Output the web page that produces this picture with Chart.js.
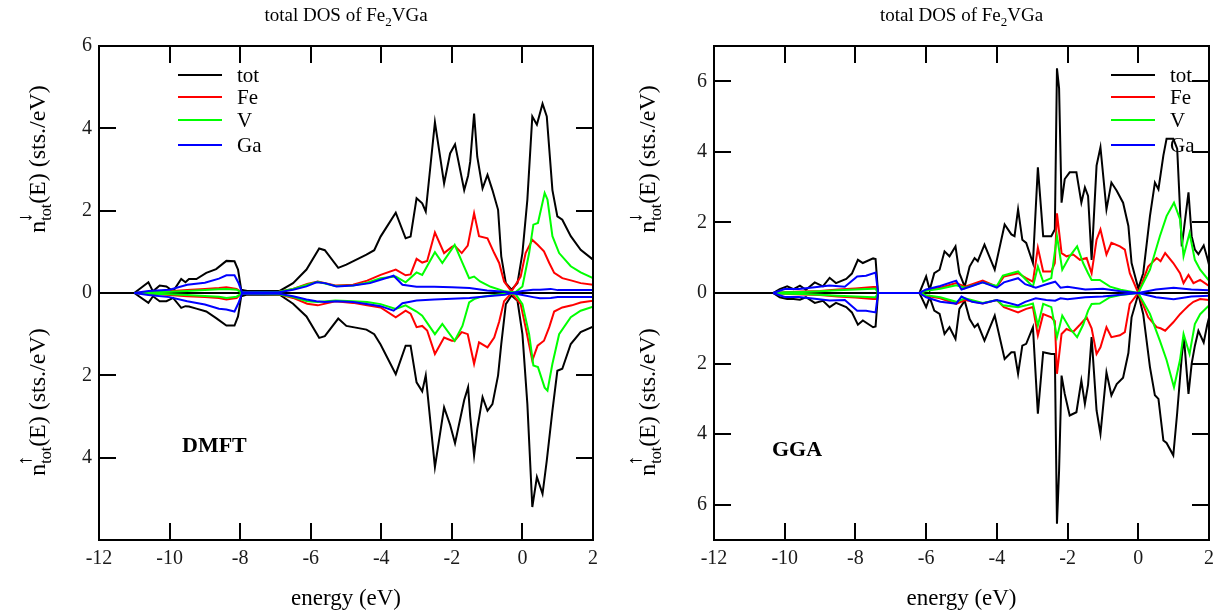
<!DOCTYPE html>
<html><head><meta charset="utf-8">
<script src="https://cdn.jsdelivr.net/npm/chart.js@4.4.0/dist/chart.umd.min.js"></script>
<style>
html,body{margin:0;padding:0;background:#fff;}
#wrap{position:relative;width:1221px;height:612px;overflow:hidden;}
.panel{position:absolute;top:0;height:612px;}
#p1{left:0;width:610px;} #p2{left:610px;width:611px;}
canvas{display:block;}
</style></head><body>
<div id="wrap">
<div class="panel" id="p1"><canvas id="c1" width="610" height="612"></canvas></div>
<div class="panel" id="p2"><canvas id="c2" width="611" height="612"></canvas></div>
</div>
<script>
// ---------- tick labels ----------
const xTicks = [-12,-10,-8,-6,-4,-2,0,2];
const dmftYTicks = [-4,-2,0,2,4,6];
const ggaYTicks = [-6,-4,-2,0,2,4,6];
const seriesNames = ['tot','Fe','V','Ga'];

// ---------- DMFT panel (Dn = spin down, plotted up; Up = spin up, plotted down) ----------
const dmftTotE = [-11.0,-10.6,-10.47,-10.28,-10.09,-9.9,-9.67,-9.55,-9.45,-9.24,-8.96,-8.68,-8.39,-8.16,-8.06,-7.97,-7.8,-6.88,-6.5,-6.12,-5.76,-5.6,-5.22,-4.99,-4.42,-4.2,-4.02,-3.59,-3.31,-3.17,-3.0,-2.84,-2.74,-2.48,-2.22,-2.05,-1.91,-1.65,-1.54,-1.48,-1.37,-1.28,-1.13,-0.99,-0.85,-0.69,-0.6,-0.47,-0.31,-0.14,0.0,0.14,0.28,0.41,0.57,0.69,0.85,0.99,1.13,1.37,1.65,2.0];
const dmftTotDn = [0,0.26,0.04,0.18,0.16,0.04,0.34,0.26,0.34,0.34,0.49,0.58,0.78,0.77,0.57,0.08,0.05,0.05,0.24,0.57,1.08,1.04,0.61,0.69,0.93,1.04,1.37,1.95,1.33,1.37,2.3,2.18,1.98,4.15,2.66,3.39,3.61,2.5,2.85,3.19,4.36,3.31,2.54,2.87,2.5,2.02,0.89,0.24,0.08,0.24,0.97,2.27,4.29,4.09,4.6,4.29,2.5,1.86,1.78,1.38,1.05,0.81];
const dmftTotUp = [0,0.24,0.08,0.2,0.2,0.12,0.36,0.32,0.33,0.38,0.45,0.61,0.79,0.79,0.57,0.08,0.04,0.04,0.26,0.57,1.09,1.05,0.62,0.8,0.89,1.0,1.25,1.97,1.28,1.28,2.17,2.39,2.0,4.23,2.78,3.2,3.65,2.6,2.29,3.0,3.95,3.3,2.53,2.86,2.7,2.0,1.24,0.27,0.06,0.19,1.0,2.7,5.2,4.47,4.88,4.07,2.86,1.89,1.84,1.24,0.95,0.82];

const dmftFeE = [-11.0,-10.5,-10.0,-9.5,-9.0,-8.6,-8.39,-8.1,-7.97,-7.8,-6.9,-6.5,-6.1,-5.8,-5.3,-4.8,-4.4,-4.02,-3.59,-3.31,-3.17,-3.0,-2.84,-2.7,-2.48,-2.22,-2.0,-1.92,-1.72,-1.55,-1.37,-1.23,-0.99,-0.8,-0.66,-0.52,-0.31,-0.05,0.09,0.28,0.43,0.61,0.76,0.9,1.13,1.4,1.65,2.0];
const dmftFeDn = [0,0.02,0.04,0.07,0.1,0.12,0.14,0.1,0.02,0.02,0.03,0.1,0.22,0.28,0.18,0.2,0.3,0.44,0.57,0.43,0.45,0.83,0.74,0.78,1.47,0.97,1.12,1.15,0.97,1.15,1.94,1.38,1.33,0.97,0.73,0.28,0.04,0.4,0.97,1.29,1.17,1.01,0.73,0.49,0.36,0.3,0.24,0.2];
const dmftFeUp = [0,0.02,0.05,0.08,0.1,0.12,0.16,0.12,0.02,0.02,0.03,0.12,0.26,0.3,0.2,0.24,0.3,0.35,0.59,0.43,0.5,0.83,0.8,0.91,1.48,1.08,1.16,1.16,0.95,1.0,1.72,1.2,1.32,1.08,0.7,0.2,0.0,0.27,0.83,1.64,1.28,1.16,0.83,0.45,0.35,0.3,0.23,0.19];

const dmftVE = [-11.0,-10.5,-10.0,-9.5,-9.0,-8.6,-8.39,-8.1,-7.97,-7.8,-6.9,-6.5,-6.1,-5.8,-5.3,-4.8,-4.4,-4.02,-3.59,-3.31,-3.0,-2.84,-2.48,-2.27,-1.92,-1.7,-1.51,-1.37,-1.2,-0.9,-0.5,-0.2,0.0,0.19,0.31,0.44,0.63,0.71,0.85,1.04,1.37,1.65,2.0];
const dmftVDn = [0,0.02,0.03,0.05,0.07,0.09,0.1,0.08,0.02,0.02,0.03,0.1,0.2,0.27,0.17,0.18,0.25,0.36,0.4,0.26,0.5,0.44,0.99,0.73,1.17,0.73,0.36,0.4,0.28,0.15,0.04,0.02,0.16,0.97,1.66,1.7,2.43,2.27,1.38,0.97,0.65,0.5,0.36];
const dmftVUp = [0,0.02,0.03,0.05,0.07,0.09,0.12,0.09,0.02,0.02,0.03,0.1,0.2,0.22,0.18,0.2,0.22,0.27,0.39,0.3,0.45,0.55,1.0,0.75,1.16,0.8,0.23,0.15,0.1,0.06,0.02,0.02,0.27,1.0,1.76,1.8,2.3,2.37,1.72,1.0,0.59,0.43,0.33];

const dmftGaE = [-11.0,-10.6,-10.0,-9.5,-9.0,-8.6,-8.39,-8.16,-8.05,-7.95,-7.8,-6.9,-6.5,-6.12,-5.84,-5.6,-5.27,-4.8,-4.32,-4.02,-3.65,-3.4,-3.0,-2.5,-2.0,-1.5,-1.0,-0.5,-0.3,0.0,0.3,0.5,0.8,1.0,1.5,2.0];
const dmftGaDn = [0,0.05,0.08,0.2,0.25,0.35,0.43,0.43,0.25,0.02,0.02,0.02,0.08,0.16,0.26,0.24,0.16,0.18,0.24,0.32,0.42,0.2,0.15,0.15,0.14,0.12,0.06,0.03,0.0,0.05,0.08,0.08,0.1,0.07,0.07,0.07];
const dmftGaUp = [0,0.05,0.1,0.2,0.28,0.38,0.4,0.45,0.25,0.02,0.02,0.02,0.08,0.16,0.2,0.22,0.2,0.22,0.28,0.32,0.43,0.25,0.18,0.16,0.14,0.12,0.08,0.04,0.0,0.05,0.1,0.13,0.12,0.1,0.1,0.1];

// ---------- GGA panel ----------
const ggaTotE = [-10.33,-10.14,-9.93,-9.75,-9.57,-9.4,-9.15,-8.92,-8.73,-8.55,-8.26,-8.1,-7.93,-7.79,-7.5,-7.43,-7.36,-6.19,-6.0,-5.9,-5.77,-5.62,-5.48,-5.34,-5.17,-5.06,-4.91,-4.77,-4.63,-4.54,-4.35,-4.06,-3.78,-3.59,-3.5,-3.4,-3.28,-3.17,-2.98,-2.84,-2.69,-2.46,-2.36,-2.3,-2.24,-2.17,-2.08,-1.94,-1.75,-1.61,-1.51,-1.42,-1.32,-1.18,-1.07,-0.9,-0.76,-0.61,-0.43,-0.28,-0.19,0.0,0.14,0.33,0.47,0.57,0.71,0.8,0.99,1.1,1.23,1.29,1.42,1.51,1.6,1.7,1.85,1.95,2.0];
const ggaTotDn = [0,0.11,0.19,0.11,0.21,0.09,0.3,0.19,0.43,0.28,0.4,0.55,0.94,0.85,0.98,0.96,0,0,0.47,0.09,0.56,0.66,1.18,1.04,1.32,0.56,0.18,0.75,0.99,0.9,1.37,0.66,1.94,1.66,1.61,2.37,1.51,1.42,0.85,3.56,1.61,1.61,1.8,6.37,5.8,2.56,3.23,3.42,3.42,2.56,2.99,2.75,0.94,3.61,4.13,2.37,3.13,2.9,2.56,1.9,0.85,0.13,0.56,2.18,3.13,2.94,3.9,4.37,4.37,4.09,1.32,1.8,2.85,1.61,1.23,1.1,1.35,1.0,0.8];
const ggaTotUp = [0,0.12,0.17,0.17,0.19,0.12,0.28,0.22,0.4,0.28,0.4,0.55,0.9,0.78,0.97,0.95,0,0,0.4,0.12,0.5,0.59,1.16,0.97,1.3,0.45,0.22,0.74,0.97,0.88,1.35,0.64,1.87,1.68,1.68,2.29,1.49,1.44,0.97,3.42,1.68,1.73,1.73,6.54,5.03,2.34,2.86,3.47,3.38,2.48,3.14,2.6,1.25,3.33,3.99,2.25,2.9,2.58,2.4,1.7,0.69,0.03,0.6,2.1,2.9,3.0,4.18,4.25,4.6,3.4,1.8,1.25,2.86,2.0,1.5,1.07,1.4,0.9,0.7];

const ggaFeE = [-10.33,-10.0,-9.5,-9.0,-8.5,-8.0,-7.5,-7.43,-7.36,-6.19,-6.0,-5.6,-5.15,-4.9,-4.4,-4.0,-3.8,-3.4,-3.17,-2.98,-2.84,-2.69,-2.46,-2.36,-2.3,-2.17,-2.03,-1.84,-1.65,-1.46,-1.32,-1.18,-1.07,-0.9,-0.76,-0.52,-0.38,-0.24,0.0,0.28,0.52,0.63,0.76,0.99,1.18,1.28,1.42,1.56,1.75,2.0];
const ggaFeDn = [0,0.02,0.04,0.06,0.1,0.13,0.17,0.17,0,0,0.08,0.15,0.28,0.18,0.35,0.18,0.47,0.56,0.42,0.32,1.28,0.61,0.61,0.85,2.26,1.13,1.04,1.09,0.94,0.99,0.56,1.51,1.8,1.09,1.42,1.32,1.23,0.56,0.0,0.75,0.99,0.9,1.13,0.85,0.56,0.28,0.51,0.28,0.37,0.2];
const ggaFeUp = [0,0.02,0.04,0.06,0.1,0.13,0.17,0.17,0,0,0.08,0.15,0.31,0.2,0.3,0.2,0.4,0.55,0.45,0.4,1.2,0.6,0.69,0.8,2.29,1.16,1.02,1.1,0.9,0.69,1.0,1.73,1.54,0.97,1.25,1.2,1.11,0.31,0.0,0.69,0.97,1.0,1.07,0.83,0.6,0.5,0.36,0.25,0.17,0.2];

const ggaVE = [-10.33,-10.0,-9.5,-9.0,-8.5,-8.0,-7.5,-7.43,-7.36,-6.19,-6.0,-5.6,-5.15,-4.9,-4.4,-4.0,-3.83,-3.4,-3.17,-2.98,-2.84,-2.69,-2.46,-2.3,-2.15,-1.94,-1.73,-1.56,-1.42,-1.32,-1.09,-0.8,-0.5,0.0,0.33,0.61,0.8,1.01,1.18,1.28,1.45,1.6,1.75,2.0];
const ggaVDn = [0,0.02,0.03,0.05,0.08,0.1,0.12,0.12,0,0,0.06,0.12,0.22,0.15,0.3,0.2,0.49,0.61,0.37,0.18,0.75,0.32,0.42,1.61,0.66,1.04,1.32,0.85,0.56,0.37,0.37,0.18,0.09,0.0,0.66,1.61,2.18,2.56,2.09,1.04,1.7,0.94,0.66,0.35];
const ggaVUp = [0,0.02,0.03,0.05,0.08,0.1,0.12,0.12,0,0,0.06,0.12,0.25,0.15,0.28,0.2,0.35,0.4,0.35,0.3,0.92,0.31,0.4,1.25,0.64,1.0,1.25,0.9,0.5,0.31,0.3,0.12,0.06,0.0,0.59,1.35,1.9,2.67,1.9,1.16,1.73,0.88,0.6,0.35];

const ggaGaE = [-10.33,-10.0,-9.6,-9.15,-8.73,-8.3,-7.95,-7.7,-7.43,-7.36,-6.19,-6.0,-5.6,-5.15,-5.0,-4.7,-4.4,-4.0,-3.8,-3.4,-3.2,-2.9,-2.6,-2.35,-2.2,-2.0,-1.5,-1.0,-0.5,0.0,0.5,1.0,1.5,2.0];
const ggaGaDn = [0,0.11,0.11,0.16,0.21,0.18,0.47,0.49,0.58,0,0,0.1,0.2,0.35,0.1,0.2,0.3,0.15,0.3,0.42,0.25,0.15,0.25,0.32,0.15,0.18,0.1,0.12,0.05,0.0,0.1,0.15,0.1,0.08];
const ggaGaUp = [0,0.11,0.11,0.16,0.21,0.2,0.5,0.5,0.55,0,0,0.12,0.25,0.3,0.1,0.25,0.3,0.2,0.25,0.35,0.25,0.15,0.2,0.22,0.15,0.18,0.12,0.1,0.05,0.0,0.12,0.18,0.1,0.08];

// ---------- styling ----------
const SERIF = '"Liberation Serif","Times New Roman",Times,serif';
const COLORS = {tot:'#000000', Fe:'#ff0000', V:'#00ff00', Ga:'#0000ff'};

function pts(E, v, sign){ return E.map((e,i)=>({x:e, y:sign*v[i]})); }

function makeDatasets(list){
  const ds = [];
  list.forEach((s, k) => {
    const base = {borderColor:COLORS[s.name], backgroundColor:COLORS[s.name], borderWidth:2,
      pointRadius:0, tension:0, fill:false, order:3-k};
    ds.push(Object.assign({label:s.name, inLegend:true, data:pts(s.E, s.dn, 1)}, base));
    ds.push(Object.assign({label:s.name+' (up)', inLegend:false, data:pts(s.E, s.up, -1)}, base));
  });
  return ds;
}

function drawYLabel(ctx, x, yc, arrow){
  ctx.save();
  ctx.translate(x, yc); ctx.rotate(-Math.PI/2);
  const big = '24px '+SERIF, small = '16px '+SERIF;
  ctx.font = big; const wn = ctx.measureText('n').width; const rest='(E) (sts./eV)'; const wr = ctx.measureText(rest).width;
  ctx.font = small; const wt = ctx.measureText('tot').width;
  let cx = -(wn+wt+wr)/2;
  ctx.fillStyle = '#000'; ctx.textAlign='left'; ctx.textBaseline='alphabetic';
  ctx.font = big; ctx.fillText('n', cx, 0); cx += wn;
  ctx.font = small; ctx.fillText('tot', cx, 6);
  ctx.font = '20px '+SERIF; ctx.fillText(arrow, cx-2, -14);
  cx += wt;
  ctx.font = big; ctx.fillText(rest, cx, 0);
  ctx.restore();
}

function decoPlugin(P){
  return {
    id:'deco_'+P.id,
    beforeDatasetsDraw(chart){
      const {ctx, chartArea:a, scales:{y}} = chart;
      const y0 = y.getPixelForValue(0);
      ctx.save(); ctx.strokeStyle='#000'; ctx.lineWidth=2;
      ctx.beginPath(); ctx.moveTo(a.left, y0); ctx.lineTo(a.right, y0); ctx.stroke(); ctx.restore();
    },
    afterDatasetsDraw(chart){
      const {ctx, chartArea:a, scales:{x, y}} = chart;
      ctx.save(); ctx.strokeStyle='#000'; ctx.lineWidth=2;
      ctx.strokeRect(a.left, a.top, a.right-a.left, a.bottom-a.top);
      const L = 17;
      ctx.beginPath();
      xTicks.forEach(v=>{ const px = Math.round(x.getPixelForValue(v));
        ctx.moveTo(px, a.bottom); ctx.lineTo(px, a.bottom-L);
        ctx.moveTo(px, a.top); ctx.lineTo(px, a.top+L); });
      P.yMarks.forEach(v=>{ const py = Math.round(y.getPixelForValue(v));
        ctx.moveTo(a.left, py); ctx.lineTo(a.left+L, py);
        ctx.moveTo(a.right, py); ctx.lineTo(a.right-L, py); });
      ctx.stroke(); ctx.restore();
    },
    afterDraw(chart){
      const {ctx, chartArea:a} = chart;
      ctx.save();
      // legend
      const ds = chart.data.datasets.filter(d=>d.inLegend);
      ds.forEach((d,i)=>{
        const yy = P.legY[i];
        ctx.strokeStyle = d.borderColor; ctx.lineWidth = 2;
        ctx.beginPath(); ctx.moveTo(P.legX0, yy); ctx.lineTo(P.legX1, yy); ctx.stroke();
        ctx.fillStyle='#000'; ctx.font='21px '+SERIF; ctx.textAlign='left'; ctx.textBaseline='middle';
        ctx.fillText(d.label, P.legTX, yy+1);
      });
      // title with subscript
      const cxm = (a.left+a.right)/2;
      const f1 = '19px '+SERIF, f2 = '13px '+SERIF;
      ctx.textBaseline='alphabetic'; ctx.textAlign='left'; ctx.fillStyle='#000';
      const p1='total DOS of Fe', p2='2', p3='VGa';
      ctx.font=f1; const w1=ctx.measureText(p1).width, w3=ctx.measureText(p3).width;
      ctx.font=f2; const w2=ctx.measureText(p2).width;
      let tx = cxm-(w1+w2+w3)/2;
      ctx.font=f1; ctx.fillText(p1, tx, 21); tx+=w1;
      ctx.font=f2; ctx.fillText(p2, tx, 26); tx+=w2;
      ctx.font=f1; ctx.fillText(p3, tx, 21);
      // x-axis title
      ctx.font='23px '+SERIF; ctx.textAlign='center';
      ctx.fillText('energy (eV)', cxm, 605);
      // y-axis titles
      drawYLabel(ctx, P.yLabX, P.yLabUp, '\u2193');
      drawYLabel(ctx, P.yLabX, P.yLabDn, '\u2191');
      // method tag
      ctx.font='bold 22px '+SERIF; ctx.textAlign='left';
      ctx.fillText(P.tag, P.tagX, P.tagY);
      ctx.restore();
    }
  };
}

function build(P){
  const ctx = document.getElementById(P.id);
  new Chart(ctx, {
    type:'line',
    data:{datasets:makeDatasets(P.series)},
    options:{
      responsive:false, animation:false, devicePixelRatio:1,
      layout:{padding:{left:0, right:P.padRight, top:46, bottom:0}},
      plugins:{legend:{display:false}, tooltip:{enabled:false}, title:{display:false}},
      scales:{
        x:{type:'linear', min:-12, max:2,
          grid:{display:false, drawTicks:false}, border:{display:false},
          afterBuildTicks:s=>{ s.ticks = xTicks.map(v=>({value:v})); },
          afterFit:s=>{ s.height = 72; },
          ticks:{padding:7, autoSkip:false, maxRotation:0, color:'#1a1a1a',
            font:{family:SERIF, size:20}, callback:v=>String(v)}},
        y:{type:'linear', min:P.ymin, max:P.ymax,
          grid:{display:false, drawTicks:false}, border:{display:false},
          afterBuildTicks:s=>{ s.ticks = P.yTicks.map(v=>({value:v})); },
          afterFit:s=>{ s.width = P.yw; },
          ticks:{padding:7, autoSkip:false, color:'#1a1a1a',
            font:{family:SERIF, size:20}, callback:v=>String(Math.abs(v))}}
      }
    },
    plugins:[decoPlugin(P)]
  });
}

build({id:'c1', ymin:-6, ymax:6, yTicks:dmftYTicks, yMarks:[-4,-2,0,2,4], yw:99, padRight:17,
  legX0:178, legX1:222, legTX:237, legY:[75,97,120,145],
  yLabX:45, yLabUp:159, yLabDn:402, tag:'DMFT', tagX:182, tagY:452,
  series:[
    {name:seriesNames[0], E:dmftTotE, dn:dmftTotDn, up:dmftTotUp},
    {name:seriesNames[1], E:dmftFeE, dn:dmftFeDn, up:dmftFeUp},
    {name:seriesNames[2], E:dmftVE, dn:dmftVDn, up:dmftVUp},
    {name:seriesNames[3], E:dmftGaE, dn:dmftGaDn, up:dmftGaUp}
  ]});

build({id:'c2', ymin:-7, ymax:7, yTicks:ggaYTicks, yMarks:ggaYTicks, yw:104, padRight:12,
  legX0:501, legX1:545, legTX:560, legY:[75,97,120,145],
  yLabX:45, yLabUp:159, yLabDn:402, tag:'GGA', tagX:162, tagY:456,
  series:[
    {name:seriesNames[0], E:ggaTotE, dn:ggaTotDn, up:ggaTotUp},
    {name:seriesNames[1], E:ggaFeE, dn:ggaFeDn, up:ggaFeUp},
    {name:seriesNames[2], E:ggaVE, dn:ggaVDn, up:ggaVUp},
    {name:seriesNames[3], E:ggaGaE, dn:ggaGaDn, up:ggaGaUp}
  ]});
</script>
</body></html>
